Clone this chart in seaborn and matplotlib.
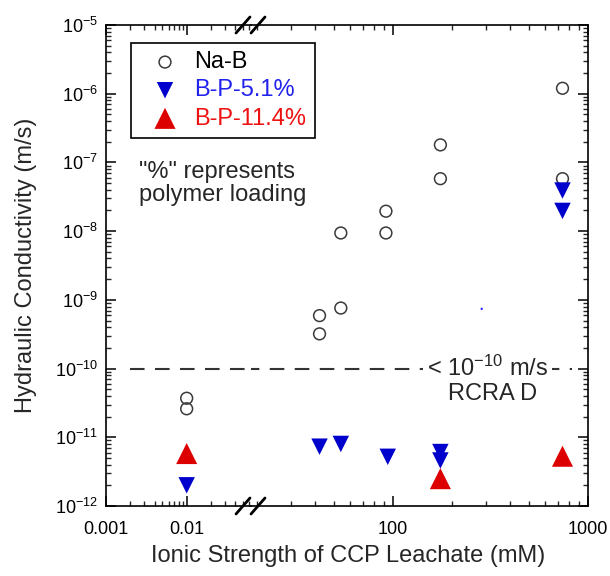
import numpy as np
import pandas as pd
import matplotlib
matplotlib.use("Agg")
import matplotlib.pyplot as plt
import matplotlib.ticker as mticker
from matplotlib.lines import Line2D
import seaborn as sns

# ---------------- data ----------------
nab_x = [0.01, 0.01, 42, 42, 54, 54, 92, 92, 175, 175, 740, 740]
nab_y = [3.7e-11, 2.6e-11, 5.9e-10, 3.2e-10, 9.4e-9, 7.6e-10,
         1.95e-8, 9.4e-9, 1.8e-7, 5.8e-8, 1.2e-6, 5.8e-8]
bp51_x = [0.01, 42, 54, 94, 175, 175, 740, 740]
bp51_y = [2.0e-12, 7.3e-12, 8.0e-12, 5.2e-12, 6.1e-12, 4.6e-12, 3.9e-8, 1.97e-8]
bp114_x = [0.01, 175, 740]
bp114_y = [5.8e-12, 2.5e-12, 5.3e-12]
stray_x = [285]
stray_y = [7.4e-10]
series_labels = ["Na-B", "B-P-5.1%", "B-P-11.4%"]
rcra_limit = 1e-10
xticks_left = [0.001, 0.01]
xticklabels_left = ["0.001", "0.01"]
xticks_right = [100, 1000]
xticklabels_right = ["100", "1000"]
yticks = [1e-12, 1e-11, 1e-10, 1e-9, 1e-8, 1e-7, 1e-6, 1e-5]
yticklabels = [r"$10^{-12}$", r"$10^{-11}$", r"$10^{-10}$", r"$10^{-9}$",
               r"$10^{-8}$", r"$10^{-7}$", r"$10^{-6}$", r"$10^{-5}$"]
xlim_left = (0.001, 0.0627)
xlim_right = (18.7, 1000)
ylim = (1e-12, 1e-5)
dash_start, dash_end = 0.002, 830

# ---------------- style ----------------
sns.set_style("ticks")
plt.rcParams["font.family"] = ["Liberation Sans", "DejaVu Sans"]
plt.rcParams["mathtext.fontset"] = "custom"
plt.rcParams["mathtext.rm"] = "Liberation Sans"
plt.rcParams["mathtext.it"] = "Liberation Sans:italic"
plt.rcParams["mathtext.default"] = "regular"

W, H = 610, 576
fig = plt.figure(figsize=(W / 100, H / 100), dpi=100, facecolor="white")

def fx(px):
    return px / W

def fy(py):
    return 1 - py / H

top_px, bot_px = 25, 506
xl0, xb, xr1 = 106, 251, 588
axL = fig.add_axes([fx(xl0), fy(bot_px), (xb - xl0) / W, (bot_px - top_px) / H])
axR = fig.add_axes([fx(xb), fy(bot_px), (xr1 - xb) / W, (bot_px - top_px) / H], sharey=axL)

df_nab = pd.DataFrame({"x": nab_x, "y": nab_y})
df_b51 = pd.DataFrame({"x": bp51_x, "y": bp51_y})
df_b114 = pd.DataFrame({"x": bp114_x, "y": bp114_y})
df_stray = pd.DataFrame({"x": stray_x, "y": stray_y})

blue = "#0000cc"
red = "#dd0000"
gray = "#3a3a3a"

for ax, lab in ((axL, True), (axR, False)):
    ax.set_facecolor("none")
    ax.set_xscale("log")
    ax.set_yscale("log")
    sns.scatterplot(data=df_nab, x="x", y="y", ax=ax, marker="o", s=72,
                    facecolor="none", edgecolor=gray, linewidth=1.1,
                    legend=False, zorder=4, label=series_labels[0] if lab else None)
    sns.scatterplot(data=df_b51, x="x", y="y", ax=ax, marker="v", s=140,
                    color=blue, edgecolor="none", linewidth=0,
                    legend=False, zorder=4, label=series_labels[1] if lab else None)
    sns.scatterplot(data=df_b114, x="x", y="y", ax=ax, marker="^", s=230,
                    color=red, edgecolor="none", linewidth=0,
                    legend=False, zorder=4, label=series_labels[2] if lab else None)
    sns.scatterplot(data=df_stray, x="x", y="y", ax=ax, marker="o", s=3,
                    color="#3030ff", edgecolor="none", legend=False, zorder=4)
    ax.set_xlabel("")
    ax.set_ylabel("")
    ax.xaxis.label.set_visible(False)
    ax.yaxis.label.set_visible(False)
    for sp in ax.spines.values():
        sp.set_linewidth(1.2)
        sp.set_color("black")
    ax.xaxis.set_minor_locator(mticker.LogLocator(base=10, subs=np.arange(2, 10), numticks=100))
    ax.xaxis.set_minor_formatter(mticker.NullFormatter())
    ax.tick_params(which="major", direction="in", length=7, width=1.1, labelsize=13,
                   top=True, bottom=True, colors="black")
    ax.tick_params(axis="x", which="major", pad=11)
    ax.tick_params(which="minor", direction="in", length=3.5, width=1.0,
                   top=True, bottom=True)

axL.set_xlim(*xlim_left)
axR.set_xlim(*xlim_right)
axL.set_xticks(xticks_left)
axL.set_xticklabels(xticklabels_left)
axR.set_xticks(xticks_right)
axR.set_xticklabels(xticklabels_right)

axL.yaxis.set_minor_locator(mticker.LogLocator(base=10, subs=np.arange(2, 10), numticks=100))
axL.set_yticks(yticks)
axL.set_yticklabels(yticklabels)
axL.yaxis.set_minor_formatter(mticker.NullFormatter())
axL.set_ylim(*ylim)

axL.spines["right"].set_visible(False)
axR.spines["left"].set_visible(False)
axL.tick_params(axis="y", which="both", left=True, right=False)
axL.tick_params(axis="y", which="major", pad=6)
axR.tick_params(axis="y", which="both", left=False, right=True, labelleft=False, labelright=False)

# RCRA limit line
axL.hlines(rcra_limit, dash_start, xlim_left[1], colors="#333333", linewidth=1.5,
           linestyles=(0, (7, 5)), zorder=2)
axR.hlines(rcra_limit, xlim_right[0], dash_end, colors="#333333", linewidth=1.5,
           linestyles=(3, (7, 5)), zorder=2)
axR.text(0.522, 0.287, r"< $10^{-10}$ m/s", transform=axR.transAxes, ha="left",
         va="center", fontsize=17, zorder=5,
         bbox=dict(boxstyle="square,pad=0.15", facecolor="white", edgecolor="none"))
axR.text(0.585, 0.233, "RCRA D", transform=axR.transAxes, ha="left", va="center",
         fontsize=17, zorder=5)

# note text
fig.text(fx(139), fy(183.5), "\"%\" represents\npolymer loading", ha="left", va="center",
         fontsize=17, linespacing=1.1)

# axis labels
fig.text(fx(348), fy(556), "Ionic Strength of CCP Leachate (mM)", ha="center",
         va="center", fontsize=17)
fig.text(fx(26), fy(265), "Hydraulic Conductivity (m/s)", ha="center", va="center",
         rotation=90, fontsize=17)

# legend
handles, labels = axL.get_legend_handles_labels()
leg = fig.legend(handles, labels, loc="upper left", bbox_to_anchor=(fx(131), fy(43)),
                 bbox_transform=fig.transFigure, borderaxespad=0, fontsize=17,
                 frameon=True, fancybox=False, edgecolor="black", framealpha=1,
                 borderpad=0.35, labelspacing=0.26, handlelength=2.18,
                 handletextpad=0.15, scatterpoints=1,
                 labelcolor=["black", "#2222ee", "#ee1111"])
leg.get_frame().set_linewidth(1.2)

# axis break marks
for yc in (top_px, bot_px):
    for xc in (243, 258):
        fig.add_artist(Line2D([fx(xc - 7), fx(xc + 7)], [fy(yc + 8), fy(yc - 8)],
                              transform=fig.transFigure, color="black", lw=2.0))

fig.savefig("out.png", dpi=100, facecolor="white")
